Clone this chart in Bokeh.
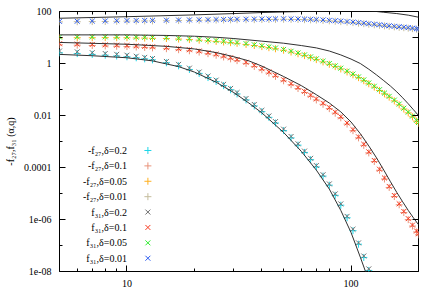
from bokeh.plotting import figure
from bokeh.models import FixedTicker, LogAxis, Label, Range1d
from bokeh.core.properties import value
from bokeh.embed import file_html
from bokeh.resources import INLINE

# ---------------- data ----------------
q_d02 = [5, 6, 7, 8, 9, 10, 11, 12, 13, 15, 17, 19, 21, 23, 25, 27, 29, 31, 34, 37,
         40, 43, 46, 50, 54, 58, 62, 66, 70, 75, 80, 85, 90, 96, 102, 108, 114, 120, 127]
q_all = [5, 6, 7, 8, 9, 10, 11, 12, 13, 15, 17, 19, 21, 23, 25, 27, 29, 31, 34, 37,
         40, 43, 46, 50, 54, 58, 62, 66, 70, 75, 80, 85, 90, 96, 102, 108, 114, 120, 127, 134,
         141, 148, 156, 164, 172, 180, 188, 196, 200]

mf27_d02 = [2.57, 2.40, 2.24, 2.09, 1.95, 1.82, 1.66, 1.51, 1.38, 1.07,
            0.813, 0.589, 0.417, 0.288, 0.204, 0.141, 0.0977, 0.0676, 0.0398, 0.0234,
            0.0141, 0.00851, 0.00513, 0.00263, 0.00138, 7.24e-4, 3.80e-4, 2.00e-4, 1.05e-4, 4.68e-5,
            2.09e-5, 8.51e-6, 3.55e-6, 1.17e-6, 3.72e-7, 1.12e-7, 3.47e-8, 1.10e-8, 2.82e-9]
f31_d02 = [3.02, 2.81, 2.61, 2.42, 2.25, 2.09, 1.90, 1.72, 1.56, 1.20,
           0.925, 0.664, 0.470, 0.328, 0.229, 0.158, 0.110, 0.0762, 0.0451, 0.0266,
           0.0158, 0.00959, 0.00582, 0.00299, 0.00156, 8.15e-4, 4.28e-4, 2.25e-4, 1.19e-4, 5.27e-5,
           2.34e-5, 9.66e-6, 3.98e-6, 1.32e-6, 4.22e-7, 1.26e-7, 3.94e-8, 1.26e-8, 3.16e-9]
mf27_d01 = [5.24, 5.08, 4.92, 4.76, 4.61, 4.47, 4.30, 4.15, 4.00, 3.71,
            3.39, 3.09, 2.75, 2.39, 2.08, 1.78, 1.51, 1.29, 1.01, 0.772,
            0.575, 0.429, 0.320, 0.216, 0.153, 0.109, 0.0772, 0.0552, 0.0396, 0.0270,
            0.0184, 0.0123, 0.00816, 0.00469, 0.00261, 0.00138, 7.11e-4, 3.65e-4, 1.70e-4, 7.83e-5,
            3.61e-5, 1.71e-5, 7.65e-6, 3.67e-6, 1.86e-6, 9.85e-7, 5.58e-7, 3.31e-7, 2.57e-7]
f31_d01 = [5.75, 5.57, 5.40, 5.22, 5.06, 4.90, 4.72, 4.55, 4.39, 4.07,
           3.72, 3.39, 3.02, 2.62, 2.28, 1.95, 1.66, 1.41, 1.11, 0.846,
           0.631, 0.470, 0.351, 0.237, 0.168, 0.119, 0.0846, 0.0605, 0.0434, 0.0296,
           0.0202, 0.0135, 0.00895, 0.00514, 0.00286, 0.00151, 7.80e-4, 4.00e-4, 1.86e-4, 8.59e-5,
           3.96e-5, 1.87e-5, 8.39e-6, 4.02e-6, 2.04e-6, 1.08e-6, 6.12e-7, 3.63e-7, 2.82e-7]
mf27_d005 = [9.70, 9.80, 9.80, 9.89, 9.80, 9.80, 9.61, 9.52, 9.33, 9.12,
             8.71, 8.31, 7.90, 7.48, 7.08, 6.70, 6.34, 5.97, 5.42, 4.92,
             4.47, 4.06, 3.68, 3.24, 2.76, 2.37, 2.01, 1.68, 1.41, 1.15,
             0.933, 0.759, 0.617, 0.474, 0.367, 0.286, 0.218, 0.166, 0.124, 0.0920,
             0.0679, 0.0508, 0.0365, 0.0257, 0.0178, 0.0126, 0.00887, 0.00608, 0.00501]
f31_d005 = [10.4, 10.5, 10.5, 10.6, 10.5, 10.5, 10.3, 10.2, 10.0, 9.77,
            9.33, 8.91, 8.47, 8.02, 7.59, 7.18, 6.79, 6.40, 5.81, 5.27,
            4.79, 4.35, 3.94, 3.47, 2.96, 2.54, 2.15, 1.80, 1.51, 1.23,
            1.00, 0.813, 0.661, 0.508, 0.393, 0.306, 0.234, 0.178, 0.133, 0.0986,
            0.0728, 0.0545, 0.0391, 0.0275, 0.0191, 0.0135, 0.00951, 0.00652, 0.00537]
mf27_d001 = [39.8, 40.4, 41.0, 41.4, 42.1, 42.7, 43.0, 43.3, 43.5, 44.1,
             44.8, 45.4, 45.9, 46.3, 46.8, 47.2, 47.7, 47.9, 48.3, 48.6,
             49.0, 49.3, 49.7, 50.1, 49.7, 49.2, 48.5, 47.7, 46.8, 45.2,
             43.6, 42.2, 40.8, 39.1, 37.4, 35.6, 34.0, 32.4, 30.8, 29.4,
             28.0, 26.9, 25.7, 24.6, 23.8, 22.9, 21.9, 20.9, 20.4]
f31_d001 = [41.7, 42.3, 42.9, 43.4, 44.1, 44.7, 45.0, 45.3, 45.6, 46.2,
            46.9, 47.5, 48.1, 48.5, 49.0, 49.4, 49.9, 50.2, 50.6, 50.9,
            51.3, 51.6, 52.0, 52.5, 52.0, 51.5, 50.8, 49.9, 49.0, 47.3,
            45.7, 44.2, 42.7, 40.9, 39.2, 37.3, 35.6, 33.9, 32.3, 30.8,
            29.3, 28.2, 26.9, 25.8, 24.9, 24.0, 22.9, 21.9, 21.4]

# theory curves (black lines)
curve_q_d02 = [5, 7, 10, 13, 17, 20, 25, 30, 35, 40, 50, 60, 70, 80, 90, 100, 110, 120]
curve_d02 = [2.24, 1.99, 1.66, 1.26, 0.759, 0.468, 0.191, 0.0759, 0.0302, 0.0126,
             0.00224, 4.17e-4, 7.94e-5, 1.48e-5, 2.24e-6, 3.16e-7, 3.55e-8, 4.47e-9]
curve_q_d01 = [5, 10, 15, 20, 25, 30, 35, 40, 50, 60, 70, 80, 90, 100, 110, 120,
               130, 140, 150, 160, 170, 180, 190, 200]
curve_d01 = [6.46, 5.50, 4.57, 3.63, 2.63, 1.82, 1.26, 0.794, 0.316, 0.141, 0.0631, 0.0302,
             0.0138, 0.00562, 0.00200, 6.76e-4, 2.34e-4, 7.94e-5, 2.82e-5, 1.10e-5, 4.79e-6,
             2.24e-6, 1.15e-6, 6.31e-7]
curve_q_d005 = [5, 10, 15, 20, 25, 30, 40, 50, 60, 70, 80, 90, 100, 110, 120, 130, 140,
                150, 160, 170, 180, 190, 200]
curve_d005 = [12.6, 12.6, 12.0, 11.2, 10.2, 9.12, 7.24, 6.03, 4.90, 3.98, 3.02, 2.14, 1.48,
              1.00, 0.603, 0.363, 0.219, 0.135, 0.0813, 0.0479, 0.0282, 0.0166, 0.0100]
curve_q_d001 = [5, 10, 20, 30, 40, 60, 80, 100, 120, 130, 140, 160, 180, 200]
curve_d001 = [55.0, 63.1, 74.1, 83.2, 91.2, 100, 105, 107, 105, 100, 93.3, 83.2, 72.4, 60.3]

legend_labels = ["-f\u2082\u2087,\u03b4=0.2", "-f\u2082\u2087,\u03b4=0.1",
                 "-f\u2082\u2087,\u03b4=0.05", "-f\u2082\u2087,\u03b4=0.01",
                 "f\u2083\u2081,\u03b4=0.2", "f\u2083\u2081,\u03b4=0.1",
                 "f\u2083\u2081,\u03b4=0.05", "f\u2083\u2081,\u03b4=0.01"]
y_title = "-f\u2082\u2087,f\u2083\u2081 (\u03b1,q)"
x_title = "q"
y_tick_values = [1e-8, 1e-6, 1e-4, 1e-2, 1, 100]
y_tick_labels = ["1e-08", "1e-06", "0.0001", "0.01", "1", "100"]
x_tick_values = [10, 100]
x_tick_labels = ["10", "100"]

# ---------------- styling ----------------
FONT = "Liberation Serif"
C_CYAN, C_SALMON, C_ORANGE, C_TAN = "#1ed6e8", "#e8937a", "#ffb020", "#c4bc9c"
C_GRAY, C_RED, C_GREEN, C_BLUE = "#707070", "#f83a20", "#30ee30", "#2c5cf0"
C_LINE = "#303030"

p = figure(width=436, height=306, x_axis_type="log", y_axis_type="log",
           x_range=Range1d(5, 200), y_range=Range1d(1e-8, 100),
           output_backend="svg", toolbar_location=None,
           min_border_left=59, min_border_right=18, min_border_top=11, min_border_bottom=35)
p.xgrid.visible = False
p.ygrid.visible = False
p.background_fill_color = "white"
p.border_fill_color = "white"
p.outline_line_color = "black"
p.outline_line_width = 1

xticker = FixedTicker(ticks=x_tick_values,
                      minor_ticks=[5, 6, 7, 8, 9, 20, 30, 40, 50, 60, 70, 80, 90, 200])
yticker = FixedTicker(ticks=y_tick_values, minor_ticks=[1e-7, 1e-5, 1e-3, 1e-1, 10])


def style_axis(ax):
    ax.axis_line_color = None
    ax.major_tick_in = 6
    ax.major_tick_out = 0
    ax.minor_tick_in = 3
    ax.minor_tick_out = 0
    ax.major_tick_line_color = "black"
    ax.minor_tick_line_color = "black"
    ax.major_label_text_font = FONT
    ax.major_label_text_font_size = "10px"
    ax.major_label_text_color = "black"


xa = p.xaxis[0]
xa.ticker = xticker
style_axis(xa)
xa.major_label_overrides = dict(zip(x_tick_values, x_tick_labels))
xa.major_label_standoff = 8

ya = p.yaxis[0]
ya.ticker = yticker
style_axis(ya)
ya.major_label_overrides = dict(zip(y_tick_values, y_tick_labels))
ya.major_label_standoff = 8
ya.axis_label = y_title
ya.axis_label_text_font = FONT
ya.axis_label_text_font_size = "10px"
ya.axis_label_text_font_style = "normal"
ya.axis_label_text_color = "black"
ya.axis_label_standoff = 5

top = LogAxis(ticker=xticker)
style_axis(top)
top.major_label_overrides = {t: "" for t in x_tick_values}
top.major_label_text_font_size = "0px"
top.major_label_standoff = 0
p.add_layout(top, "above")

right = LogAxis(ticker=yticker)
style_axis(right)
right.minor_tick_in = 6
right.major_label_overrides = {t: "" for t in y_tick_values}
right.major_label_text_font_size = "0px"
right.major_label_standoff = 0
p.add_layout(right, "right")

# ---------------- marks ----------------
MS = 7
p.scatter(q_d02, mf27_d02, marker="cross", size=MS, line_color=C_CYAN, line_width=1)
p.scatter(q_all, mf27_d01, marker="cross", size=MS, line_color=C_SALMON, line_width=1)
p.scatter(q_all, mf27_d005, marker="cross", size=MS, line_color=C_ORANGE, line_width=1)
p.scatter(q_all, mf27_d001, marker="cross", size=MS, line_color=C_TAN, line_width=1)
p.scatter(q_d02, f31_d02, marker="x", size=MS, line_color=C_GRAY, line_width=1)
p.scatter(q_all, f31_d01, marker="x", size=MS, line_color=C_RED, line_width=1)
p.scatter(q_all, f31_d005, marker="x", size=MS, line_color=C_GREEN, line_width=1)
p.scatter(q_all, f31_d001, marker="x", size=MS, line_color=C_BLUE, line_width=1)

for cq, cv in [(curve_q_d02, curve_d02), (curve_q_d01, curve_d01),
               (curve_q_d005, curve_d005), (curve_q_d001, curve_d001)]:
    p.line(cq, cv, line_color=C_LINE, line_width=1)

# ---------------- key (inside the plot, lower left) ----------------
key_text_x = 10.0
key_mark_x = 12.4
key_rows = [10 ** (-3.346 - 0.592 * i) for i in range(len(legend_labels))]
key_colors = [C_CYAN, C_SALMON, C_ORANGE, C_TAN, C_GRAY, C_RED, C_GREEN, C_BLUE]
key_markers = ["cross"] * 4 + ["x"] * 4
p.text(x=[key_text_x] * len(key_rows), y=key_rows, text=legend_labels,
       text_align="right", text_baseline="middle", text_font=value(FONT),
       text_font_size="10px", text_color="black")
p.scatter(x=[key_mark_x] * len(key_rows), y=key_rows, marker=key_markers,
          size=MS, line_color=key_colors, line_width=1)

# ---------------- x title ----------------
p.add_layout(Label(x=31.5, y=1e-9, text=x_title, text_align="center",
                   text_baseline="alphabetic", text_font=FONT,
                   text_font_size="10px", text_color="black"))

open("out.html", "w").write(file_html(p, INLINE))
